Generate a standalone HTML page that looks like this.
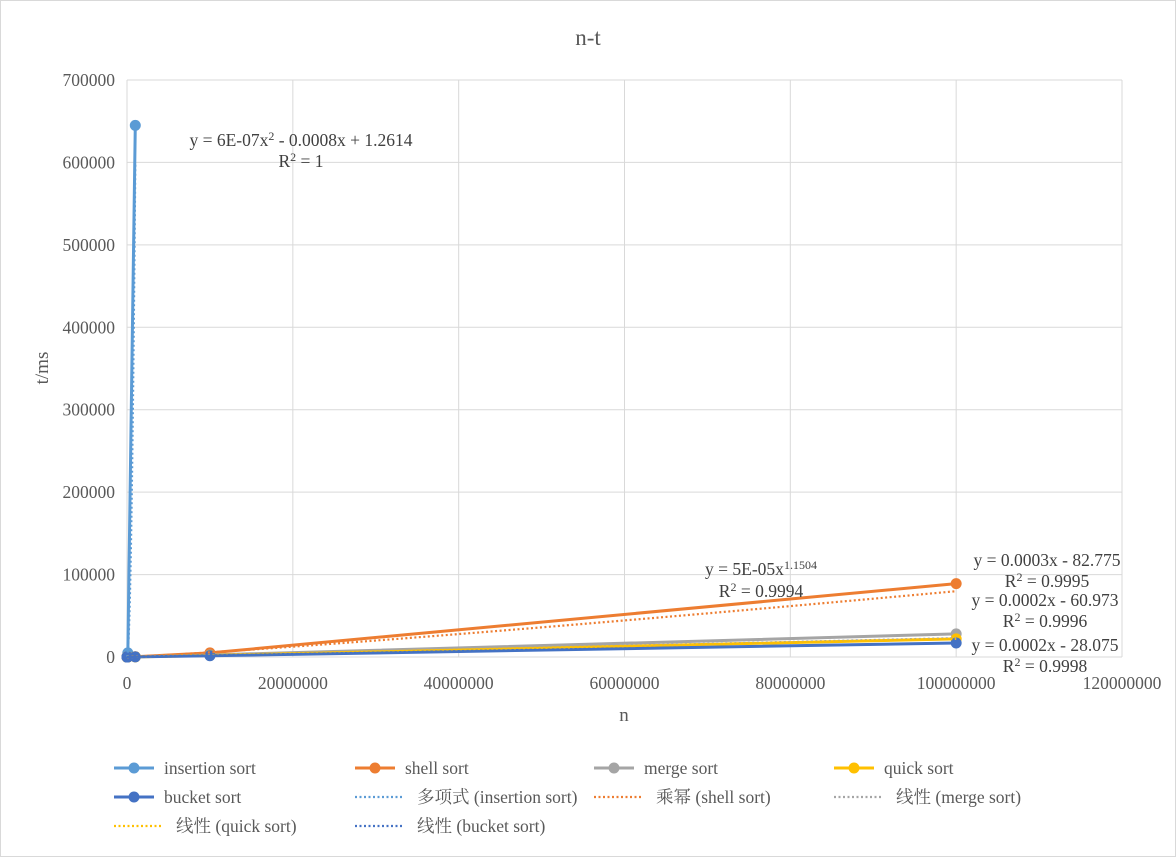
<!DOCTYPE html>
<html><head><meta charset="utf-8">
<style>
body{margin:0;background:#fff;}
svg{display:block;font-family:"Liberation Serif","Noto Serif CJK SC","Noto Sans CJK SC",serif;}
</style></head>
<body>
<svg id="chart" width="1176" height="857" viewBox="0 0 1176 857">
<rect x="0.5" y="0.5" width="1175" height="856" fill="#fff" stroke="#d9d9d9"/>
<text x="588" y="45" text-anchor="middle" font-size="23" fill="#595959">n-t</text>
<g id="grid"></g><g id="axes"></g><g id="series"></g><g id="labels"></g><g id="legend"></g>
</svg>
<script>
const xTicks=[0,20000000,40000000,60000000,80000000,100000000,120000000];
const yTicks=[0,100000,200000,300000,400000,500000,600000,700000];
const insX=[10,100,1000,10000,100000,1000000];
const insY=[0,0,1,60,5000,645000];
const nX=[10,100,1000,10000,100000,1000000,10000000,100000000];
const shellY=[0,0,0,1,15,300,5000,89000];
const mergeY=[0,0,0,2,20,250,2500,28000];
const quickY=[0,0,0,1,10,150,1800,22000];
const bucketY=[0,0,0,1,10,120,1500,17000];
const polyCoef=[6e-7,-0.0008,1.2614];
const powCoef=[5e-5,1.1504];
const linMerge=[0.0003,-82.775];
const linQuick=[0.0002,-60.973];
const linBucket=[0.0002,-28.075];
const NS='http://www.w3.org/2000/svg';
const X0=127,X1=1122,Y0=657,Y1=80,FS=17.5;
const sx=v=>X0+(v-0)/120000000*(X1-X0);
const sy=v=>Y0-(v/700000)*(Y0-Y1);
function mk(t,a,p){const e=document.createElementNS(NS,t);for(const k in a)e.setAttribute(k,a[k]);p.appendChild(e);return e;}
const g=document.getElementById('grid'),ax=document.getElementById('axes'),se=document.getElementById('series'),lb=document.getElementById('labels'),lg=document.getElementById('legend');
xTicks.forEach(t=>{const l=mk('line',{x1:sx(t),x2:sx(t),y1:Y1,y2:Y0,stroke:'#d9d9d9'},g);

const tx=mk('text',{x:sx(t),y:689,'text-anchor':'middle','font-size':FS,fill:'#595959'},ax);tx.textContent=t;
});
yTicks.forEach(t=>{const l=mk('line',{x1:X0,x2:X1,y1:sy(t),y2:sy(t),stroke:'#d9d9d9'},g);

const tx=mk('text',{x:115,y:sy(t)+6,'text-anchor':'end','font-size':FS,fill:'#595959'},ax);tx.textContent=t;
});
let t=mk('text',{x:624,y:721,'text-anchor':'middle','font-size':19,fill:'#595959'},ax);t.textContent='n';

t=mk('text',{x:48,y:368,'text-anchor':'middle','font-size':19,fill:'#595959',transform:'rotate(-90 48 368)'},ax);t.textContent='t/ms';

function trend(f,xmax,color,name){let pts=[];for(let i=0;i<=200;i++){const x=xmax*i/200;pts.push(sx(x)+','+sy(Math.max(0,f(x))));}
const p=mk('polyline',{points:pts.join(' '),fill:'none',stroke:color,'stroke-width':2.2,'stroke-dasharray':'2 2.5'},se);
}
function series(xs,ys,color,name){const p=mk('polyline',{points:xs.map((x,i)=>sx(x)+','+sy(ys[i])).join(' '),fill:'none',stroke:color,'stroke-width':3},se);

xs.forEach((x,i)=>{const c=mk('circle',{cx:sx(x),cy:sy(ys[i]),r:5.5,fill:color},se);
});}
series(insX,insY,'#5b9bd5','insertion-sort');
series(nX,shellY,'#ed7d31','shell-sort');
series(nX,mergeY,'#a5a5a5','merge-sort');
series(nX,quickY,'#ffc000','quick-sort');
series(nX,bucketY,'#4472c4','bucket-sort');
trend(x=>polyCoef[0]*x*x+polyCoef[1]*x+polyCoef[2],1000000,'#5b9bd5','insertion-poly-trendline');
trend(x=>powCoef[0]*Math.pow(x,powCoef[1]),100000000,'#ed7d31','shell-power-trendline');
trend(x=>linMerge[0]*x+linMerge[1]-0.0001*x*0.7,100000000,'#a5a5a5','merge-linear-trendline');
trend(x=>linQuick[0]*x+linQuick[1]+0.00002*x,100000000,'#ffc000','quick-linear-trendline');
trend(x=>linBucket[0]*x+linBucket[1]-0.00003*x,100000000,'#4472c4','bucket-linear-trendline');
const labs=[[301,146,'y = 6E-07x<tspan dy="-6" font-size="12">2</tspan><tspan dy="6"> - 0.0008x + 1.2614</tspan>','insertion-trend-equation'],
[301,167,'R<tspan dy="-6" font-size="12">2</tspan><tspan dy="6"> = 1</tspan>','insertion-r2'],
[761,575,'y = 5E-05x<tspan dy="-6" font-size="12">1.1504</tspan>','shell-trend-equation'],
[761,597,'R<tspan dy="-6" font-size="12">2</tspan><tspan dy="6"> = 0.9994</tspan>','shell-r2'],
[1047,566,'y = 0.0003x - 82.775','merge-trend-equation'],
[1047,587,'R<tspan dy="-6" font-size="12">2</tspan><tspan dy="6"> = 0.9995</tspan>','merge-r2'],
[1045,606,'y = 0.0002x - 60.973','quick-trend-equation'],
[1045,627,'R<tspan dy="-6" font-size="12">2</tspan><tspan dy="6"> = 0.9996</tspan>','quick-r2'],
[1045,651,'y = 0.0002x - 28.075','bucket-trend-equation'],
[1045,672,'R<tspan dy="-6" font-size="12">2</tspan><tspan dy="6"> = 0.9998</tspan>','bucket-r2']];
labs.forEach(l=>{const e=mk('text',{x:l[0],y:l[1],'text-anchor':'middle','font-size':FS,fill:'#404040'},lb);e.innerHTML=l[2];
});
const leg=[[114,768,'#5b9bd5',0,'insertion sort'],[355,768,'#ed7d31',0,'shell sort'],[594,768,'#a5a5a5',0,'merge sort'],[834,768,'#ffc000',0,'quick sort'],
[114,797,'#4472c4',0,'bucket sort'],[355,797,'#5b9bd5',1,'多项式 (insertion sort)'],[594,797,'#ed7d31',1,'乘幂 (shell sort)'],[834,797,'#a5a5a5',1,'线性 (merge sort)'],
[114,826,'#ffc000',1,'线性 (quick sort)'],[355,826,'#4472c4',1,'线性 (bucket sort)']];
leg.forEach(l=>{const grp=mk('g',{},lg);
if(l[3]){mk('line',{x1:l[0],x2:l[0]+48,y1:l[1],y2:l[1],stroke:l[2],'stroke-width':2.2,'stroke-dasharray':'2 2.5'},grp);}
else{mk('line',{x1:l[0],x2:l[0]+40,y1:l[1],y2:l[1],stroke:l[2],'stroke-width':3},grp);mk('circle',{cx:l[0]+20,cy:l[1],r:5.5,fill:l[2]},grp);}
const tx=mk('text',{x:l[0]+(l[3]?62:50),y:l[1]+6,'font-size':FS,fill:'#595959'},grp);tx.textContent=l[4];});
</script>
</body></html>
